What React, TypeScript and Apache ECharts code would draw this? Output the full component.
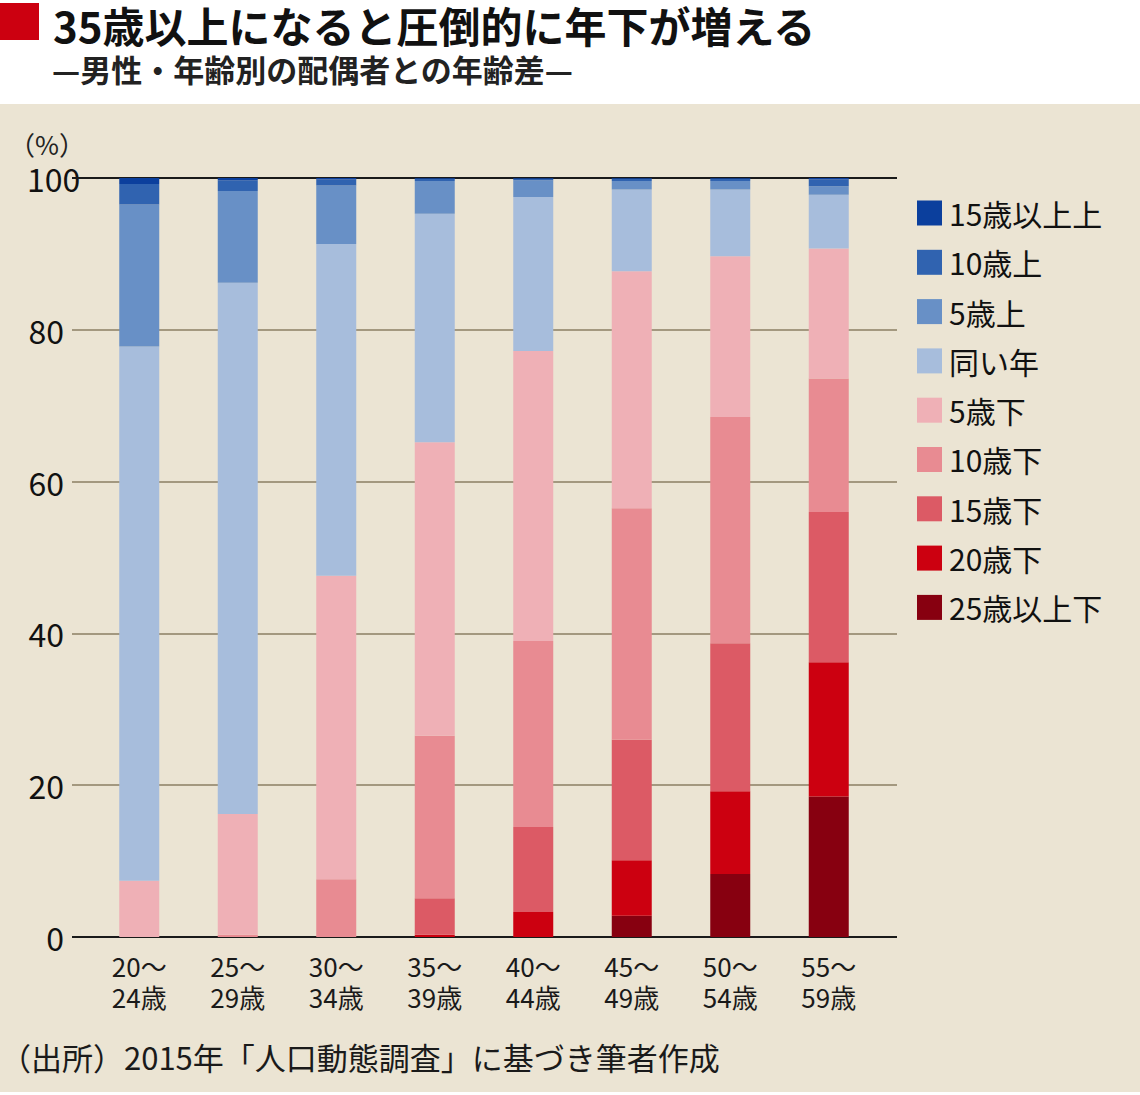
import React, { useEffect, useRef } from "react";
import * as echarts from "echarts";

const categories = ["20〜\n24歳", "25〜\n29歳", "30〜\n34歳", "35〜\n39歳", "40〜\n44歳", "45〜\n49歳", "50〜\n54歳", "55〜\n59歳"];

// stacked from bottom to top
const older25 = [0, 0, 0, 0, 0, 2.8, 8.3, 18.5];
const older20 = [0, 0, 0, 0.3, 3.3, 7.3, 10.9, 17.7];
const older15 = [0, 0, 0, 4.8, 11.2, 15.9, 19.5, 19.8];
const older10 = [0, 0.3, 7.6, 21.4, 24.5, 30.5, 29.8, 17.6];
const older5 = [7.4, 15.9, 40.0, 38.7, 38.2, 31.2, 21.2, 17.1];
const sameAge = [70.4, 70.0, 43.7, 30.1, 20.3, 10.8, 8.8, 7.1];
const younger5 = [18.7, 12.1, 7.7, 4.3, 2.2, 1.1, 1.1, 1.1];
const younger10 = [2.7, 1.4, 0.8, 0.3, 0.2, 0.3, 0.3, 0.9];
const younger15 = [0.8, 0.3, 0.2, 0.1, 0.1, 0.1, 0.1, 0.2];

const seriesNames = ["25歳以上下", "20歳下", "15歳下", "10歳下", "5歳下", "同い年", "5歳上", "10歳上", "15歳以上上"];
const seriesData = [older25, older20, older15, older10, older5, sameAge, younger5, younger10, younger15];
const seriesColors = ["#870010", "#cc0010", "#dc5a65", "#e88b92", "#efb0b6", "#a7bddc", "#6890c6", "#3063b0", "#0b3f9d"];

const yTicks = [0, 20, 40, 60, 80, 100];

const FONT = "'Noto Sans CJK JP', 'Noto Sans', sans-serif";

export default function App() {
  const ref = useRef<HTMLDivElement>(null);

  useEffect(() => {
    document.body.style.margin = "0";
    if (!ref.current) return;
    const chart = echarts.init(ref.current, null, { renderer: "svg" });
    const option: any = {
      animation: false,
      textStyle: { fontFamily: FONT },
      grid: [
        { left: 90, right: 262, top: 178, bottom: 158 },
        { left: 72, right: 243, top: 178, bottom: 158 },
      ],
      xAxis: [
        {
          type: "category",
          gridIndex: 0,
          data: categories,
          axisLine: { show: false },
          axisTick: { show: false },
          axisLabel: {
            fontSize: 26,
            lineHeight: 31,
            color: "#1a1a1a",
            margin: 13,
            fontFamily: FONT,
          },
        },
        { type: "value", gridIndex: 1, min: 0, max: 1, show: false },
      ],
      yAxis: [
        { type: "value", gridIndex: 0, min: 0, max: 100, show: false },
        {
          type: "value",
          gridIndex: 1,
          min: 0,
          max: 100,
          interval: 20,
          axisLine: { show: false },
          axisTick: { show: false },
          axisLabel: {
            fontSize: 32,
            color: "#111",
            margin: 8,
            fontFamily: FONT,
            formatter: (v: number) => (v === 100 ? "" : String(v)),
          },
          splitLine: {
            lineStyle: {
              color: yTicks.map((t) => (t === 0 || t === 100 ? "#1a1a1a" : "#a3987f")),
              width: 2,
            },
          },
        },
      ],
      legend: {
        orient: "vertical",
        left: 917,
        top: 198,
        padding: 0,
        itemWidth: 25,
        itemHeight: 25,
        itemGap: 19.3,
        icon: "rect",
        data: [...seriesNames].reverse(),
        textStyle: { fontSize: 30, color: "#111", fontFamily: FONT, padding: [0, 0, 0, 2] },
      },
      series: seriesNames.map((name, i) => ({
        name,
        type: "bar",
        stack: "total",
        xAxisIndex: 0,
        yAxisIndex: 0,
        barWidth: 40,
        itemStyle: { color: seriesColors[i] },
        data: seriesData[i],
      })),
      graphic: [
        { type: "rect", shape: { x: 0, y: 3, width: 39, height: 37 }, style: { fill: "#cc0010" } },
        {
          type: "text",
          x: 53,
          y: 24,
          style: {
            text: "35歳以上になると圧倒的に年下が増える",
            fontSize: 42,
            fontWeight: "bold",
            fill: "#111",
            fontFamily: FONT,
            textVerticalAlign: "middle",
          },
        },
        {
          type: "text",
          x: 52,
          y: 68,
          style: {
            text: "—男性・年齢別の配偶者との年齢差—",
            fontSize: 31,
            fontWeight: "bold",
            fill: "#222",
            fontFamily: FONT,
            textVerticalAlign: "middle",
          },
        },
        {
          type: "text",
          x: 9,
          y: 143,
          style: { text: "（%）", fontSize: 26, fill: "#222", fontFamily: FONT, textVerticalAlign: "middle" },
        },
        {
          type: "text",
          x: 27,
          y: 178,
          style: { text: "100", fontSize: 32, fill: "#111", fontFamily: FONT, textVerticalAlign: "middle" },
        },
        {
          type: "text",
          x: 0,
          y: 1056,
          style: {
            text: "（出所）2015年「人口動態調査」に基づき筆者作成",
            fontSize: 31,
            fill: "#1a1a1a",
            fontFamily: FONT,
            textVerticalAlign: "middle",
          },
        },
      ],
    };
    chart.setOption(option);
    return () => chart.dispose();
  }, []);

  return (
    <div style={{ position: "relative", width: 1140, height: 1095, background: "#ffffff", overflow: "hidden" }}>
      <div style={{ position: "absolute", left: 0, top: 104, width: 1140, height: 988, background: "#ebe4d3" }} />
      <div ref={ref} style={{ position: "absolute", left: 0, top: 0, width: 1140, height: 1095 }} />
    </div>
  );
}
